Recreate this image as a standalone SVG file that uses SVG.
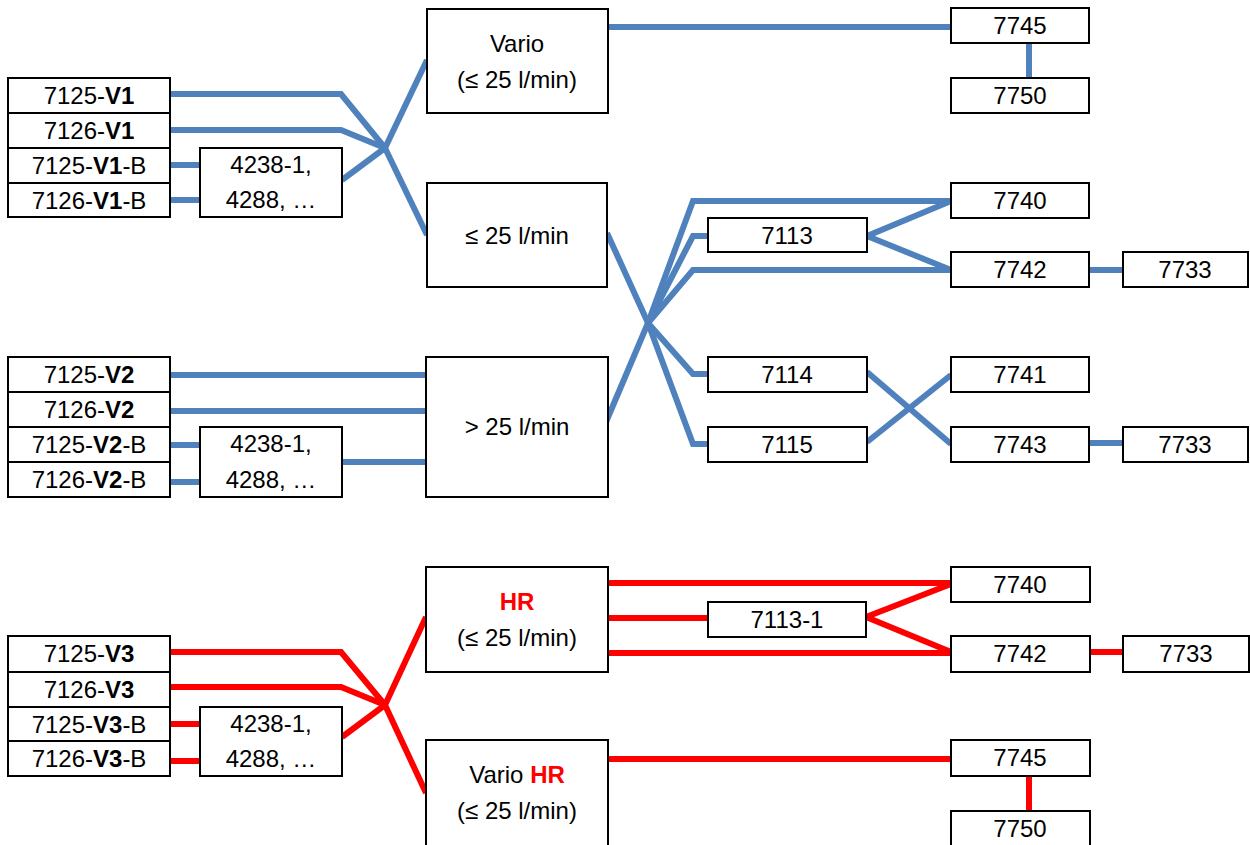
<svg xmlns="http://www.w3.org/2000/svg" width="1250" height="845" viewBox="0 0 1250 845">
<style>
.b{fill:#fff;stroke:#000;stroke-width:2}
text{font-family:"Liberation Sans",Arial,sans-serif;font-size:24px;fill:#000;text-anchor:middle}
.bd{font-weight:bold}
.r{fill:#ff0000;font-weight:bold}
.cb{fill:none;stroke:#4f81bd;stroke-width:6;stroke-linejoin:miter}
.cr{fill:none;stroke:#ff0000;stroke-width:6;stroke-linejoin:miter}
</style>
<rect width="1250" height="845" fill="#fff"/>
<g id="connectors">
  <!-- blue top -->
  <polyline class="cb" points="170,94 341,94 385,148"/>
  <polyline class="cb" points="170,130 341,130 385,148"/>
  <line class="cb" x1="342" y1="180" x2="385" y2="148"/>
  <line class="cb" x1="385" y1="148" x2="427" y2="60"/>
  <line class="cb" x1="385" y1="148" x2="427" y2="235"/>
  <line class="cb" x1="170" y1="165" x2="200" y2="165"/>
  <line class="cb" x1="170" y1="200" x2="200" y2="200"/>
  <line class="cb" x1="608" y1="27" x2="951" y2="27"/>
  <line class="cb" x1="1029" y1="43" x2="1029" y2="78" stroke-width="7"/>
  <!-- blue V2 -->
  <line class="cb" x1="170" y1="375" x2="426" y2="375"/>
  <line class="cb" x1="170" y1="411" x2="426" y2="411"/>
  <line class="cb" x1="342" y1="462" x2="426" y2="462"/>
  <line class="cb" x1="170" y1="445" x2="200" y2="445"/>
  <line class="cb" x1="170" y1="482" x2="200" y2="482"/>
  <!-- blue middle junction -->
  <line class="cb" x1="607" y1="233" x2="648" y2="323"/>
  <line class="cb" x1="606" y1="422" x2="648" y2="323"/>
  <polyline class="cb" points="648,323 693,201 951,201"/>
  <polyline class="cb" points="648,323 693,236 708,236"/>
  <polyline class="cb" points="648,323 693,270 951,270"/>
  <polyline class="cb" points="648,323 693,374 708,374"/>
  <polyline class="cb" points="648,323 693,444 708,444"/>
  <line class="cb" x1="867" y1="236" x2="951" y2="201"/>
  <line class="cb" x1="867" y1="236" x2="951" y2="270"/>
  <line class="cb" x1="867" y1="372" x2="951" y2="444"/>
  <line class="cb" x1="867" y1="442" x2="951" y2="375"/>
  <line class="cb" x1="1089" y1="270" x2="1123" y2="270" stroke-width="8"/>
  <line class="cb" x1="1089" y1="443" x2="1123" y2="443"/>
  <!-- red -->
  <polyline class="cr" points="170,652 341,652 385,705"/>
  <polyline class="cr" points="170,687 341,687 385,705"/>
  <line class="cr" x1="342" y1="737" x2="385" y2="705"/>
  <line class="cr" x1="385" y1="705" x2="426" y2="617"/>
  <line class="cr" x1="385" y1="705" x2="426" y2="793"/>
  <line class="cr" x1="170" y1="724" x2="200" y2="724"/>
  <line class="cr" x1="170" y1="761" x2="200" y2="761"/>
  <line class="cr" x1="608" y1="583" x2="951" y2="583" stroke-width="7"/>
  <line class="cr" x1="608" y1="618" x2="708" y2="618"/>
  <line class="cr" x1="608" y1="653" x2="951" y2="653" stroke-width="7"/>
  <line class="cr" x1="866" y1="617" x2="951" y2="584"/>
  <line class="cr" x1="866" y1="617" x2="951" y2="652"/>
  <line class="cr" x1="1090" y1="652" x2="1123" y2="652" stroke-width="5"/>
  <line class="cr" x1="608" y1="759" x2="951" y2="759"/>
  <line class="cr" x1="1029" y1="776" x2="1029" y2="811" stroke-width="5"/>
</g>

<!-- V1 group -->
<g id="n7125-V1"><rect class="b" x="8" y="78" width="162" height="35"/><text x="89" y="104">7125-<tspan class="bd">V1</tspan></text></g>
<g id="n7126-V1"><rect class="b" x="8" y="113" width="162" height="35"/><text x="89" y="139">7126-<tspan class="bd">V1</tspan></text></g>
<g id="n7125-V1-B"><rect class="b" x="8" y="148" width="162" height="35"/><text x="89" y="174">7125-<tspan class="bd">V1</tspan>-B</text></g>
<g id="n7126-V1-B"><rect class="b" x="8" y="183" width="162" height="34"/><text x="89" y="209">7126-<tspan class="bd">V1</tspan>-B</text></g>
<g id="n4238-a"><rect class="b" x="200" y="148" width="142" height="69"/><text x="271" y="173">4238-1,</text><text x="271" y="208">4288, …</text></g>

<g id="vario"><rect class="b" x="427" y="9" width="181" height="104"/><text x="517" y="52">Vario</text><text x="517" y="88">(≤ 25 l/min)</text></g>
<g id="le25"><rect class="b" x="427" y="183" width="180" height="104"/><text x="517" y="244">≤ 25 l/min</text></g>

<!-- V2 group -->
<g id="n7125-V2"><rect class="b" x="8" y="357" width="162" height="35"/><text x="89" y="383">7125-<tspan class="bd">V2</tspan></text></g>
<g id="n7126-V2"><rect class="b" x="8" y="392" width="162" height="35"/><text x="89" y="418">7126-<tspan class="bd">V2</tspan></text></g>
<g id="n7125-V2-B"><rect class="b" x="8" y="427" width="162" height="35"/><text x="89" y="453">7125-<tspan class="bd">V2</tspan>-B</text></g>
<g id="n7126-V2-B"><rect class="b" x="8" y="462" width="162" height="35"/><text x="89" y="488">7126-<tspan class="bd">V2</tspan>-B</text></g>
<g id="n4238-b"><rect class="b" x="200" y="427" width="142" height="70"/><text x="271" y="452">4238-1,</text><text x="271" y="488">4288, …</text></g>
<g id="gt25"><rect class="b" x="426" y="357" width="182" height="140"/><text x="517" y="435">&gt; 25 l/min</text></g>

<!-- right blue -->
<g id="b7745"><rect class="b" x="951" y="8" width="138" height="35"/><text x="1020" y="34">7745</text></g>
<g id="b7750"><rect class="b" x="951" y="78" width="138" height="35"/><text x="1020" y="104">7750</text></g>
<g id="b7740"><rect class="b" x="951" y="183" width="138" height="35"/><text x="1020" y="209">7740</text></g>
<g id="b7742"><rect class="b" x="951" y="252" width="138" height="35"/><text x="1020" y="278">7742</text></g>
<g id="b7733a"><rect class="b" x="1123" y="252" width="125" height="35"/><text x="1185" y="278">7733</text></g>
<g id="b7113"><rect class="b" x="708" y="218" width="159" height="34"/><text x="787" y="244">7113</text></g>
<g id="b7114"><rect class="b" x="708" y="357" width="159" height="35"/><text x="787" y="383">7114</text></g>
<g id="b7115"><rect class="b" x="708" y="427" width="159" height="35"/><text x="787" y="453">7115</text></g>
<g id="b7741"><rect class="b" x="951" y="357" width="138" height="35"/><text x="1020" y="383">7741</text></g>
<g id="b7743"><rect class="b" x="951" y="427" width="138" height="35"/><text x="1020" y="453">7743</text></g>
<g id="b7733b"><rect class="b" x="1123" y="427" width="125" height="35"/><text x="1185" y="453">7733</text></g>

<!-- V3 group -->
<g id="n7125-V3"><rect class="b" x="8" y="636" width="162" height="36"/><text x="89" y="662">7125-<tspan class="bd">V3</tspan></text></g>
<g id="n7126-V3"><rect class="b" x="8" y="672" width="162" height="35"/><text x="89" y="698">7126-<tspan class="bd">V3</tspan></text></g>
<g id="n7125-V3-B"><rect class="b" x="8" y="707" width="162" height="34"/><text x="89" y="733">7125-<tspan class="bd">V3</tspan>-B</text></g>
<g id="n7126-V3-B"><rect class="b" x="8" y="741" width="162" height="35"/><text x="89" y="767">7126-<tspan class="bd">V3</tspan>-B</text></g>
<g id="n4238-c"><rect class="b" x="200" y="707" width="142" height="69"/><text x="271" y="732">4238-1,</text><text x="271" y="767">4288, …</text></g>

<g id="hr"><rect class="b" x="426" y="567" width="182" height="105"/><text x="517" y="610"><tspan class="r">HR</tspan></text><text x="517" y="646">(≤ 25 l/min)</text></g>
<g id="variohr"><rect class="b" x="426" y="740" width="182" height="112"/><text x="517" y="783">Vario <tspan class="r">HR</tspan></text><text x="517" y="819">(≤ 25 l/min)</text></g>

<!-- right red -->
<g id="r7740"><rect class="b" x="951" y="567" width="139" height="35"/><text x="1020" y="593">7740</text></g>
<g id="r7113-1"><rect class="b" x="708" y="602" width="158" height="35"/><text x="787" y="628">7113-1</text></g>
<g id="r7742"><rect class="b" x="951" y="636" width="139" height="36"/><text x="1020" y="662">7742</text></g>
<g id="r7733"><rect class="b" x="1123" y="636" width="126" height="36"/><text x="1186" y="662">7733</text></g>
<g id="r7745"><rect class="b" x="951" y="740" width="139" height="36"/><text x="1020" y="766">7745</text></g>
<g id="r7750"><rect class="b" x="951" y="811" width="139" height="38"/><text x="1020" y="837">7750</text></g>
</svg>
